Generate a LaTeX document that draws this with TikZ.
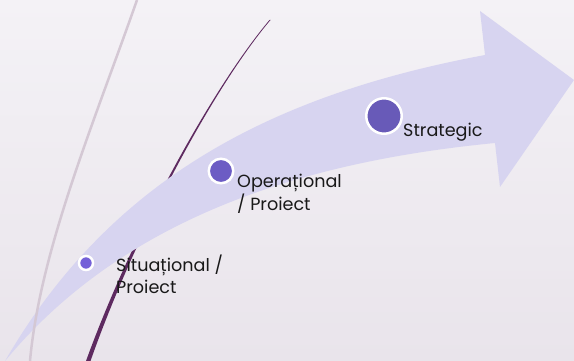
\documentclass[tikz,border=0pt]{standalone}
\usepackage{fontspec}
\setmainfont{Poppins}
\begin{document}
\begin{tikzpicture}[x=1pt,y=-1pt,
  lbl/.style={anchor=base west,inner sep=0pt,font=\fontsize{17.6}{21}\selectfont,text=black!90},
  dot/.style={circle,draw=white,line width=2.5pt,inner sep=0pt}]
\definecolor{bgtop}{RGB}{244,242,246}
\definecolor{bgbot}{RGB}{233,228,235}
\definecolor{arrowc}{RGB}{215,212,240}
\definecolor{darkline}{RGB}{94,42,96}
\definecolor{grayline}{RGB}{212,200,212}
\definecolor{dotA}{RGB}{116,96,216}
\definecolor{dotB}{RGB}{108,92,196}
\definecolor{dotC}{RGB}{104,90,184}
\useasboundingbox (0,0) rectangle (574,361);
\shade[top color=bgtop,bottom color=bgbot] (0,0) rectangle (574,361);
% dark tapered line (behind arrow)
\fill[darkline] (269.5,20) .. controls (214.5,85) and (133.5,230) .. (86,361)
  -- (90.5,361) .. controls (136.5,230) and (215.5,85) .. (270.5,20) -- cycle;
% arrow
\fill[arrowc] (5,361) .. controls (110,180) and (270,95) .. (485,55)
  -- (480,11) -- (574,80) -- (500,187) -- (495,143)
  .. controls (320,160) and (130,210) .. (5,361) -- cycle;
% gray curve
\draw[grayline,line width=2.5pt] (137,0) .. controls (95,120) and (40,250) .. (30,361);
% dots
\node[dot,fill=dotA,minimum size=14pt] (d1) at (86,263) {};
\node[dot,fill=dotB,minimum size=24.5pt] (d2) at (221,171) {};
\node[dot,fill=dotC,minimum size=35.5pt] (d3) at (384,116) {};
% labels
\node[lbl] (t1) at (116,271) {Situațional /};
\node[lbl] (t1b) at (116,293) {Proiect};
\node[lbl] (t2) at (237,188) {Operațional};
\node[lbl] (t2b) at (237,211) {/ Proiect};
\node[lbl] (t3) at (403,136) {Strategic};
\end{tikzpicture}
\end{document}
